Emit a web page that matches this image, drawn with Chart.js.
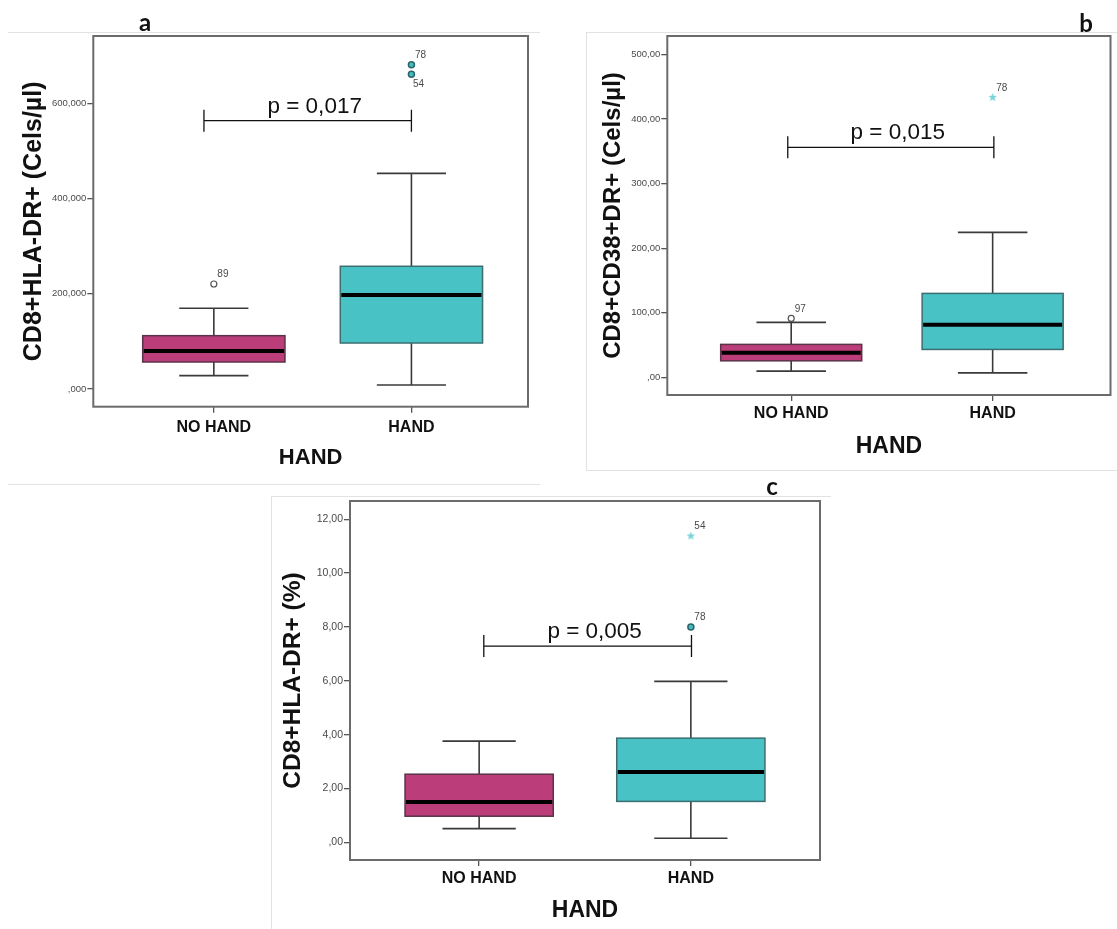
<!DOCTYPE html>
<html>
<head>
<meta charset="utf-8">
<title>CD8 activation - HAND</title>
<script src="https://cdn.jsdelivr.net/npm/chart.js@4.4.1/dist/chart.umd.min.js"></script>
<style>
  body { margin: 0; background: #fff; }
  #page { position: relative; width: 1117px; height: 929px; overflow: hidden; }
  canvas { position: absolute; }
  .frame { position: absolute; border: 0 solid #e2e2e2; box-sizing: border-box; }
</style>
</head>
<body>
<div id="page">
  <div class="frame" style="left:8px;top:32px;width:532px;height:453px;border-top-width:1px;border-bottom-width:1px;"></div>
  <div class="frame" style="left:586px;top:32px;width:531px;height:439px;border-top-width:1px;border-left-width:1px;border-bottom-width:1px;"></div>
  <div class="frame" style="left:271px;top:496px;width:560px;height:433px;border-top-width:1px;border-left-width:1px;"></div>
  <canvas id="chartA" width="540" height="483" style="left:0;top:0"></canvas>
  <canvas id="chartB" width="532" height="470" style="left:585px;top:0"></canvas>
  <canvas id="chartC" width="560" height="449" style="left:270px;top:480px"></canvas>
</div>
<script>
const categories = ['NO HAND', 'HAND'];

// a) CD8+HLA-DR+ absolute counts
const hlaAbsLow = [28000, 8400];
const hlaAbsQ1 = [56700, 96600];
const hlaAbsMedian = [79800, 197500];
const hlaAbsQ3 = [112000, 257800];
const hlaAbsHigh = [169500, 453000];
const hlaAbsOutliers = [
  { group: 0, value: 220600, caseId: '89', extreme: false },
  { group: 1, value: 681300, caseId: '78', extreme: false },
  { group: 1, value: 661000, caseId: '54', extreme: false }
];
const hlaAbsTicks = [0, 200000, 400000, 600000];
const hlaAbsTickLabels = [',000', '200,000', '400,000', '600,000'];
const hlaAbsP = 'p = 0,017';
const hlaAbsBracket = 563700;

// b) CD8+CD38+DR+ absolute counts
const cd38Low = [9.8, 7.1];
const cd38Q1 = [25.7, 43.3];
const cd38Median = [38.1, 81.5];
const cd38Q3 = [51.1, 130];
const cd38High = [85.1, 224.5];
const cd38Outliers = [
  { group: 0, value: 91.3, caseId: '97', extreme: false },
  { group: 1, value: 433.4, caseId: '78', extreme: true }
];
const cd38Ticks = [0, 100, 200, 300, 400, 500];
const cd38TickLabels = [',00', '100,00', '200,00', '300,00', '400,00', '500,00'];
const cd38P = 'p = 0,015';
const cd38Bracket = 356;

// c) CD8+HLA-DR+ percentage
const hlaPctLow = [0.51, 0.15];
const hlaPctQ1 = [0.97, 1.52];
const hlaPctMedian = [1.50, 2.61];
const hlaPctQ3 = [2.53, 3.87];
const hlaPctHigh = [3.76, 5.98];
const hlaPctOutliers = [
  { group: 1, value: 11.38, caseId: '54', extreme: true },
  { group: 1, value: 8.00, caseId: '78', extreme: false }
];
const hlaPctTicks = [0, 2, 4, 6, 8, 10, 12];
const hlaPctTickLabels = [',00', '2,00', '4,00', '6,00', '8,00', '10,00', '12,00'];
const hlaPctP = 'p = 0,005';
const hlaPctBracket = 7.29;

const FONT = "'Liberation Sans', Arial, sans-serif";
const boxFill = ['#bb3d7a', '#48c2c5'];
const boxEdge = ['#5a3348', '#3c6e70'];

function makeStar(color) {
  const c = document.createElement('canvas');
  c.width = 11; c.height = 11;
  const g = c.getContext('2d');
  g.fillStyle = color;
  g.beginPath();
  for (let k = 0; k < 10; k++) {
    const r = k % 2 ? 1.9 : 4.6;
    const a = -Math.PI / 2 + k * Math.PI / 5;
    g.lineTo(5.5 + r * Math.cos(a), 5.5 + r * Math.sin(a));
  }
  g.closePath();
  g.fill();
  return c;
}
const star = makeStar('#78d3da');

// boxes, whiskers, p-value bracket, case labels and the frame
function boxPlot(p) {
  return {
    id: 'boxPlot',
    beforeDatasetsDraw(chart) {
      const { ctx } = chart;
      const xs = chart.scales.x, ys = chart.scales.y;
      ctx.save();
      for (let i = 0; i < p.median.length; i++) {
        const cx = xs.getPixelForValue(i);
        const half = xs.getPixelForValue(i + p.boxWidth / 2) - cx;
        const cap = xs.getPixelForValue(i + p.capWidth / 2) - cx;
        const yLow = ys.getPixelForValue(p.low[i]);
        const yQ1 = ys.getPixelForValue(p.q1[i]);
        const yMed = ys.getPixelForValue(p.median[i]);
        const yQ3 = ys.getPixelForValue(p.q3[i]);
        const yHigh = ys.getPixelForValue(p.high[i]);

        ctx.strokeStyle = '#3a3a3a';
        ctx.lineWidth = 1.6;
        ctx.beginPath();
        ctx.moveTo(cx, yHigh); ctx.lineTo(cx, yQ3);
        ctx.moveTo(cx, yQ1); ctx.lineTo(cx, yLow);
        ctx.moveTo(cx - cap, yHigh); ctx.lineTo(cx + cap, yHigh);
        ctx.moveTo(cx - cap, yLow); ctx.lineTo(cx + cap, yLow);
        ctx.stroke();

        ctx.fillStyle = boxFill[i];
        ctx.fillRect(cx - half, yQ3, 2 * half, yQ1 - yQ3);
        ctx.strokeStyle = boxEdge[i];
        ctx.lineWidth = 1.5;
        ctx.strokeRect(cx - half, yQ3, 2 * half, yQ1 - yQ3);

        ctx.strokeStyle = '#000';
        ctx.lineWidth = 4;
        ctx.beginPath();
        ctx.moveTo(cx - half + 1, yMed); ctx.lineTo(cx + half - 1, yMed);
        ctx.stroke();
      }
      ctx.restore();
    },
    afterDatasetsDraw(chart) {
      const { ctx } = chart;
      const xs = chart.scales.x, ys = chart.scales.y;
      ctx.save();
      // significance bracket
      const x0 = xs.getPixelForValue(p.bracketFrom);
      const x1 = xs.getPixelForValue(p.bracketTo);
      const yb = ys.getPixelForValue(p.bracket);
      ctx.strokeStyle = '#111';
      ctx.lineWidth = 1.3;
      ctx.beginPath();
      ctx.moveTo(x0, yb); ctx.lineTo(x1, yb);
      ctx.moveTo(x0, yb - 11); ctx.lineTo(x0, yb + 11);
      ctx.moveTo(x1, yb - 11); ctx.lineTo(x1, yb + 11);
      ctx.stroke();
      ctx.fillStyle = '#111';
      ctx.font = '22.5px ' + FONT;
      ctx.textAlign = 'center';
      ctx.textBaseline = 'alphabetic';
      ctx.fillText(p.pText, (x0 + x1) / 2 + 7, yb - 8);

      // case numbers next to the outliers
      const meta = chart.getDatasetMeta(0);
      ctx.font = '10px ' + FONT;
      ctx.fillStyle = '#4a4a4a';
      ctx.textAlign = 'left';
      ctx.textBaseline = 'middle';
      p.outliers.forEach((o, j) => {
        const pt = meta.data[j];
        const below = p.labelsBelow.includes(o.caseId);
        ctx.fillText(o.caseId, pt.x + (below ? 1.5 : 3.5), pt.y + (below ? 9.5 : -9.5));
      });
      ctx.restore();
    },
    afterDraw(chart) {
      const { ctx, chartArea: a } = chart;
      ctx.save();
      ctx.strokeStyle = '#6b6b6b';
      ctx.lineWidth = 2;
      ctx.strokeRect(a.left, a.top, a.right - a.left, a.bottom - a.top);
      ctx.fillStyle = '#111';
      ctx.font = '700 24px Lato, ' + FONT;
      ctx.textAlign = 'center';
      ctx.textBaseline = 'alphabetic';
      ctx.fillText(p.letter, p.letterX, p.letterY);
      ctx.restore();
    }
  };
}

function makePanel(p) {
  const ctx = document.getElementById(p.canvas).getContext('2d');
  return new Chart(ctx, {
    type: 'scatter',
    data: {
      datasets: [{
        data: p.outliers.map(o => ({ x: o.group, y: o.value })),
        pointStyle: p.outliers.map(o => o.extreme ? star : 'circle'),
        pointRadius: p.outliers.map(o => o.extreme ? 5 : 3),
        pointBorderWidth: p.outliers.map(o => o.group === 0 ? 1.2 : 1.5),
        pointBackgroundColor: p.outliers.map(o => o.group === 0 ? '#ffffff' : '#3fbfc4'),
        pointBorderColor: p.outliers.map(o => o.group === 0 ? '#555555' : '#2f6466')
      }]
    },
    options: {
      responsive: false,
      animation: false,
      devicePixelRatio: 1,
      layout: { padding: { top: p.padTop, right: p.padRight, left: 0, bottom: 0 } },
      plugins: { legend: { display: false }, tooltip: { enabled: false } },
      scales: {
        x: {
          type: 'linear',
          min: p.xMin,
          max: p.xMax,
          afterBuildTicks: s => { s.ticks = categories.map((c, i) => ({ value: i })); },
          afterFit: s => { s.height = p.xHeight; },
          ticks: {
            autoSkip: false,
            maxRotation: 0,
            padding: p.catPad,
            color: '#111',
            font: { family: FONT, size: 16, weight: 'bold' },
            callback: v => categories[v]
          },
          grid: { drawOnChartArea: false, drawTicks: true, tickLength: 6, color: '#555', lineWidth: 1.3 },
          border: { display: false },
          title: {
            display: true,
            text: 'HAND',
            color: '#111',
            font: { family: FONT, size: p.xTitleSize, weight: 'bold' },
            padding: { top: 4, bottom: p.xTitlePad }
          }
        },
        y: {
          type: 'linear',
          min: p.yMin,
          max: p.yMax,
          afterBuildTicks: s => { s.ticks = p.ticks.map(v => ({ value: v })); },
          afterFit: s => { s.width = p.yWidth; },
          ticks: {
            autoSkip: false,
            padding: 1,
            color: '#4a4a4a',
            font: { family: FONT, size: p.tickSize },
            callback: v => p.tickLabels[p.ticks.indexOf(v)]
          },
          grid: { drawOnChartArea: false, drawTicks: true, tickLength: 6, color: '#555', lineWidth: 1.3 },
          border: { display: false },
          title: {
            display: true,
            text: p.yTitle,
            color: '#111',
            font: { family: FONT, size: p.yTitleSize, weight: 'bold' },
            padding: { top: p.yTitlePad, bottom: 0 }
          }
        }
      }
    },
    plugins: [boxPlot(p)]
  });
}

makePanel({
  canvas: 'chartA', letter: 'a', letterX: 145, letterY: 31,
  low: hlaAbsLow, q1: hlaAbsQ1, median: hlaAbsMedian, q3: hlaAbsQ3, high: hlaAbsHigh,
  outliers: hlaAbsOutliers, labelsBelow: ['54'],
  ticks: hlaAbsTicks, tickLabels: hlaAbsTickLabels,
  pText: hlaAbsP, bracket: hlaAbsBracket, bracketFrom: -0.05, bracketTo: 1,
  yTitle: 'CD8+HLA-DR+ (Cels/µl)', yTitleSize: 25, yTitlePad: 19.4,
  xMin: -0.61, xMax: 1.59, yMin: -37200, yMax: 741600,
  padTop: 36, padRight: 12, yWidth: 93.3, xHeight: 76.3,
  tickSize: 9.5, catPad: 5, xTitleSize: 22, xTitlePad: 12,
  boxWidth: 0.72, capWidth: 0.35
});

makePanel({
  canvas: 'chartB', letter: 'b', letterX: 501, letterY: 32,
  low: cd38Low, q1: cd38Q1, median: cd38Median, q3: cd38Q3, high: cd38High,
  outliers: cd38Outliers, labelsBelow: [],
  ticks: cd38Ticks, tickLabels: cd38TickLabels,
  pText: cd38P, bracket: cd38Bracket, bracketFrom: -0.017, bracketTo: 1.006,
  yTitle: 'CD8+CD38+DR+ (Cels/µl)', yTitleSize: 24, yTitlePad: 13.6,
  xMin: -0.615, xMax: 1.585, yMin: -27.2, yMax: 528.3,
  padTop: 36, padRight: 1, yWidth: 82.3, xHeight: 75,
  tickSize: 9.5, catPad: 3.2, xTitleSize: 23, xTitlePad: 10,
  boxWidth: 0.70, capWidth: 0.345
});

makePanel({
  canvas: 'chartC', letter: 'c', letterX: 502, letterY: 15,
  low: hlaPctLow, q1: hlaPctQ1, median: hlaPctMedian, q3: hlaPctQ3, high: hlaPctHigh,
  outliers: hlaPctOutliers, labelsBelow: [],
  ticks: hlaPctTicks, tickLabels: hlaPctTickLabels,
  pText: hlaPctP, bracket: hlaPctBracket, bracketFrom: 0.022, bracketTo: 1.003,
  yTitle: 'CD8+HLA-DR+ (%)', yTitleSize: 24.5, yTitlePad: 8.3,
  xMin: -0.61, xMax: 1.61, yMin: -0.657, yMax: 12.68,
  padTop: 21, padRight: 10, yWidth: 80, xHeight: 69,
  tickSize: 10.5, catPad: 2.7, xTitleSize: 23, xTitlePad: 5,
  boxWidth: 0.70, capWidth: 0.346
});
</script>
</body>
</html>
